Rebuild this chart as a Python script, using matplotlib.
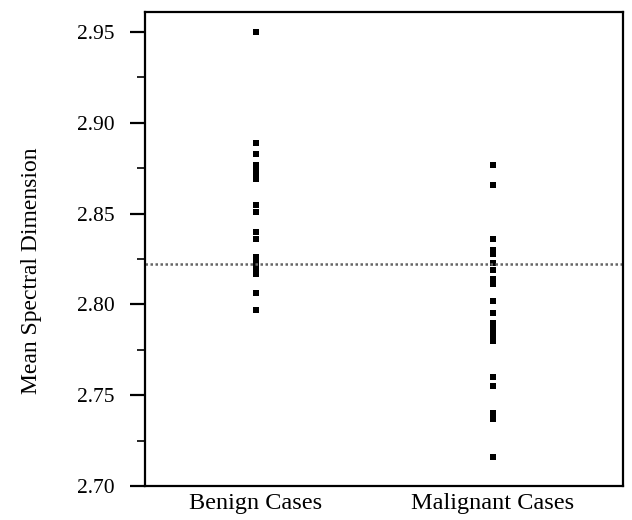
import matplotlib
matplotlib.use("Agg")
import matplotlib.pyplot as plt
from matplotlib.ticker import MultipleLocator, FormatStrFormatter

# values
categories = ["Benign Cases", "Malignant Cases"]

benign = [2.950, 2.889, 2.883, 2.877, 2.874, 2.871, 2.869, 2.855, 2.851,
          2.840, 2.836, 2.826, 2.823, 2.820, 2.817, 2.806, 2.797]

malignant = [2.877, 2.866, 2.836, 2.830, 2.828, 2.823, 2.819, 2.814, 2.811,
             2.802, 2.795, 2.790, 2.787, 2.784, 2.782, 2.780, 2.760, 2.755,
             2.740, 2.737, 2.716]

threshold = 2.8225  # dotted horizontal line

plt.rcParams["font.family"] = ["Liberation Serif", "DejaVu Serif"]

fig = plt.figure(figsize=(6.32, 5.2), dpi=100)
ax = fig.add_axes([0.2294, 0.0654, 0.7563, 0.9115])

ax.plot([1] * len(benign), benign, "s", color="black", markersize=3.8, markeredgewidth=0)
ax.plot([2] * len(malignant), malignant, "s", color="black", markersize=3.8, markeredgewidth=0)
ax.axhline(threshold, color="0.4", linewidth=1.8, linestyle=(0, (1, 1)))

ax.set_xlim(0.533, 2.548)
ax.set_ylim(2.70, 2.961)
ax.set_xticks([1, 2])
ax.set_xticklabels(categories, fontsize=17.5)
ax.tick_params(axis="x", length=0, pad=5)

ax.yaxis.set_major_locator(MultipleLocator(0.05))
ax.yaxis.set_minor_locator(MultipleLocator(0.025))
ax.yaxis.set_major_formatter(FormatStrFormatter("%.2f"))
ax.tick_params(axis="y", which="major", length=11, width=1.6, labelsize=15.5, pad=11)
ax.tick_params(axis="y", which="minor", length=6, width=1.2)

for s in ax.spines.values():
    s.set_linewidth(1.6)

ax.set_ylabel("Mean Spectral Dimension", fontsize=17, labelpad=25, y=0.455)

fig.savefig("out.png", dpi=100)
